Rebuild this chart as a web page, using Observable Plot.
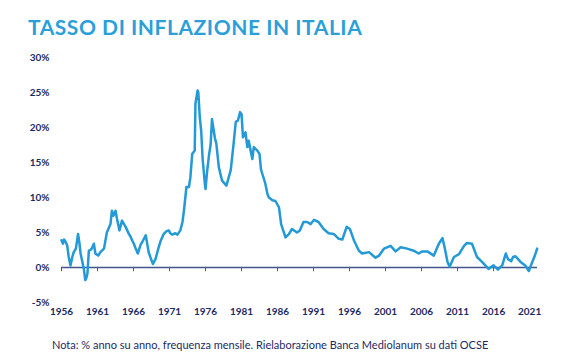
<!DOCTYPE html>
<html>
<head>
<meta charset="utf-8">
<script src="https://cdn.jsdelivr.net/npm/d3@7"></script>
<script src="https://cdn.jsdelivr.net/npm/@observablehq/plot@0.6"></script>
<style>
  html, body { margin: 0; padding: 0; background: #ffffff; }
  body { width: 581px; height: 358px; position: relative; overflow: hidden; }
  #title { position: absolute; left: 28px; top: 16px; font-family: Lato, sans-serif; font-weight: 700; font-size: 21px; line-height: 21px; color: #2a9fd9; letter-spacing: 0.55px; white-space: nowrap; }
  #chart { position: absolute; left: 0; top: 45px; }
  #chart svg { display: block; }
  #caption { position: absolute; left: 52px; top: 339px; font-family: Lato, sans-serif; font-size: 11px; line-height: 11px; color: #1d2a5f; white-space: nowrap; }
</style>
</head>
<body>
<div id="title">TASSO DI INFLAZIONE IN ITALIA</div>
<div id="chart"></div>
<div id="caption">Nota: % anno su anno, frequenza mensile. Rielaborazione Banca Mediolanum su dati OCSE</div>
<script>
// Time (decimal year) and year-on-year inflation (%)
const times = [
  1956.0, 1956.2, 1956.35, 1956.6, 1956.8, 1957.0, 1957.25, 1957.5, 1957.7, 1958.0,
  1958.3, 1958.5, 1958.65, 1958.9, 1959.1, 1959.3, 1959.45, 1959.6, 1959.8, 1960.0,
  1960.2, 1960.5, 1960.7, 1961.1, 1961.4, 1961.9, 1962.3, 1962.8, 1963.0, 1963.2,
  1963.5, 1963.7, 1964.05, 1964.4, 1964.9, 1965.35, 1965.6, 1965.8, 1966.05, 1966.3,
  1966.6, 1967.0, 1967.2, 1967.7, 1968.1, 1968.4, 1968.7, 1969.05, 1969.5, 1969.8,
  1970.2, 1970.6, 1970.9, 1971.1, 1971.4, 1971.8, 1972.1, 1972.5, 1972.8, 1973.0,
  1973.35, 1973.7, 1973.9, 1974.15, 1974.5, 1974.6, 1974.9, 1975.0, 1975.2, 1975.4,
  1975.6, 1975.9, 1976.0, 1976.2, 1976.5, 1976.7, 1976.9, 1977.0, 1977.3, 1977.5,
  1977.85, 1978.3, 1978.9, 1979.5, 1979.9, 1980.2, 1980.5, 1980.8, 1981.0, 1981.2,
  1981.55, 1981.8, 1982.0, 1982.3, 1982.5, 1982.7, 1983.2, 1983.5, 1983.7, 1984.0,
  1984.3, 1984.6, 1984.8, 1985.3, 1985.7, 1986.2, 1986.5, 1987.1, 1987.6, 1988.0,
  1988.7, 1989.1, 1989.6, 1990.1, 1990.6, 1991.05, 1991.7, 1992.4, 1993.1, 1993.8,
  1994.5, 1995.0, 1995.6, 1996.05, 1996.6, 1997.3, 1997.75, 1998.7, 1999.6, 2000.1,
  2000.8, 2001.7, 2002.4, 2003.1, 2004.0, 2004.9, 2005.6, 2006.1, 2006.8, 2007.7,
  2008.4, 2008.9, 2009.2, 2009.6, 2009.9, 2010.5, 2011.2, 2011.9, 2012.3, 2013.0,
  2013.7, 2014.4, 2015.3, 2016.0, 2016.6, 2017.2, 2017.7, 2018.0, 2018.45, 2018.7,
  2019.05, 2019.75, 2020.4, 2020.9, 2021.3, 2021.7, 2022.05
];
const inflation = [
  3.9, 3.4, 4.0, 3.6, 3.1, 1.5, 0.3, 1.5, 2.2, 2.7,
  4.8, 3.4, 2.0, 0.8, -0.2, -1.8, -1.5, -0.9, 2.4, 2.5,
  2.7, 3.4, 2.0, 1.7, 2.2, 2.7, 5.0, 6.2, 8.1, 7.4,
  8.1, 7.0, 5.3, 6.7, 5.8, 4.8, 4.4, 3.9, 3.4, 2.7,
  2.0, 3.3, 3.6, 4.6, 2.2, 1.3, 0.5, 1.2, 2.9, 3.9,
  4.8, 5.2, 5.3, 4.9, 4.7, 4.9, 4.7, 5.3, 6.5, 8.1,
  11.5, 11.5, 12.9, 16.2, 16.7, 23.4, 25.3, 25.0, 21.5, 19.5,
  15.5, 12.0, 11.2, 13.5, 16.2, 17.5, 21.2, 20.5, 18.5, 17.7,
  14.3, 12.4, 11.7, 13.9, 17.7, 20.8, 21.0, 22.2, 21.9, 18.6,
  19.3, 17.2, 18.1, 16.5, 15.5, 17.2, 16.7, 16.2, 14.0, 13.0,
  12.0, 10.5, 10.0, 9.6, 9.5, 8.6, 6.2, 4.3, 4.8, 5.5,
  5.0, 5.3, 6.5, 6.5, 6.2, 6.8, 6.5, 5.5, 4.9, 4.8,
  4.1, 4.0, 5.8, 5.5, 3.9, 2.4, 2.0, 2.2, 1.4, 1.7,
  2.7, 3.1, 2.3, 2.9, 2.7, 2.4, 2.0, 2.3, 2.3, 1.7,
  3.4, 4.2, 2.9, 0.8, 0.1, 1.5, 1.9, 3.1, 3.5, 3.4,
  1.5, 0.8, -0.2, 0.3, -0.3, 0.3, 2.0, 1.2, 0.9, 1.5,
  1.6, 0.8, 0.3, -0.5, 0.6, 1.6, 2.7
];
const xTickYears = [1956, 1961, 1966, 1971, 1976, 1981, 1986, 1991, 1996, 2001, 2006, 2011, 2016, 2021];
const yTickValues = [-5, 0, 5, 10, 15, 20, 25, 30];

const data = times.map((t, i) => ({t, v: inflation[i]}));
const axisColor = "#46558c";
const textColor = "#1d2a5f";

const chart = Plot.plot({
  width: 581,
  height: 285,
  marginLeft: 61,
  marginRight: 44,
  marginTop: 12,
  marginBottom: 28,
  style: {fontFamily: "Lato, sans-serif", fontSize: "10px", fontWeight: "bold", color: textColor, background: "transparent"},
  x: {type: "linear", domain: [1956, 2022.1]},
  y: {domain: [-5, 30]},
  marks: [
    Plot.axisY({ticks: yTickValues, tickFormat: d => d + "%", tickSize: 0, tickPadding: 12, label: null}),
    Plot.axisX({ticks: xTickYears, tickFormat: d => String(d), tickSize: 0, tickPadding: 5, label: null}),
    Plot.ruleY([0], {stroke: axisColor, strokeWidth: 1.5}),
    Plot.ruleX(xTickYears, {x: d => d, y1: 0, y2: -0.6, stroke: axisColor, strokeWidth: 1}),
    Plot.line(data, {x: "t", y: "v", stroke: "#2399d6", strokeWidth: 2.5, strokeLinejoin: "round"})
  ]
});
document.getElementById("chart").appendChild(chart);
</script>
</body>
</html>
